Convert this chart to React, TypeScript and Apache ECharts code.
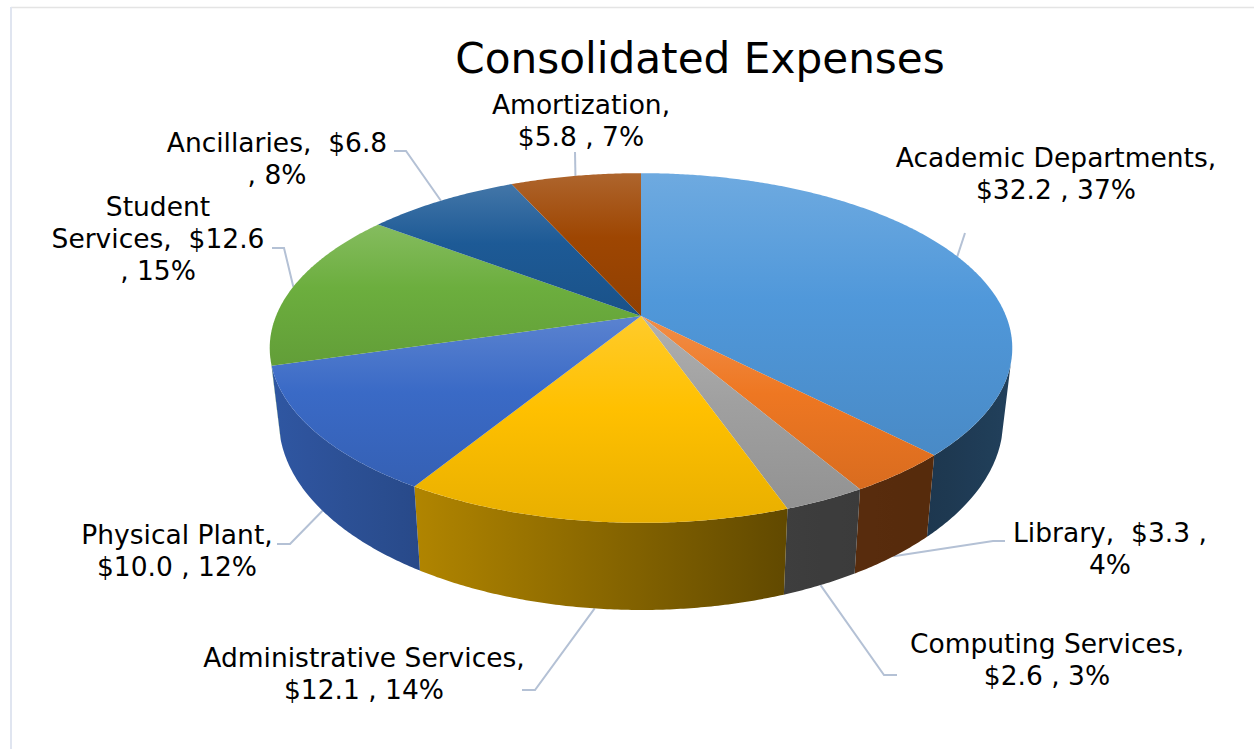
import React, { useEffect, useRef } from "react";
import * as echarts from "echarts";

const chartTitle = "Consolidated Expenses";
const categories = ["Academic Departments", "Library", "Computing Services", "Administrative Services", "Physical Plant", "Student Services", "Ancillaries", "Amortization"];
const expenses = [32.2, 3.3, 2.6, 12.1, 10.0, 12.6, 6.8, 5.8];
const sliceColors = ["#5098DA", "#EE7722", "#A0A0A0", "#FFC000", "#3A6AC6", "#6CAE3E", "#1D5A96", "#9E4602"];
const labelTexts = [
  "Academic Departments,\n$32.2 , 37%",
  "Library,  $3.3 ,\n4%",
  "Computing Services,\n$2.6 , 3%",
  "Administrative Services,\n$12.1 , 14%",
  "Physical Plant,\n$10.0 , 12%",
  "Student\nServices,  $12.6\n, 15%",
  "Ancillaries,  $6.8\n, 8%",
  "Amortization,\n$5.8 , 7%",
];
// label centre [x, y of the block's middle]
const labelCentres = [[1056, 173], [1110, 548], [1047, 659], [364, 673], [177, 550], [158, 238], [277, 158], [581, 120]];
// leader-line start points beside the label (outermost first)
const leaderElbows: number[][][] = [
  [[965, 233]],
  [[1005, 541], [993, 541]],
  [[897, 675], [884, 675]],
  [[522, 690], [535, 690]],
  [[277, 544], [290, 544]],
  [[272, 248], [284, 248]],
  [[394, 151], [406, 151]],
  [[575, 152]],
];

const CX = 641;
const CY = 316;
const K = 0.183;
const TOP_X = 365;
const TOP_Y = 169;
const BOT_X = 356;
const BOT_Y = 183;
const BOT_CY = 386;
const WALL_V = 0.268;

const total = expenses.reduce((a, b) => a + b, 0);
const cumulative = expenses.map((_, i) => expenses.slice(0, i).reduce((a, b) => a + b, 0));

function topPoint(t: number): number[] {
  const u = Math.sin(t), v = -Math.cos(t), w = 1 - K * v;
  return [CX + (TOP_X * u) / w, CY + (TOP_Y * v) / w];
}
function bottomPoint(t: number): number[] {
  const u = Math.sin(t), v = -Math.cos(t), w = 1 - K * v;
  return [CX + (BOT_X * u) / w, BOT_CY + (BOT_Y * v) / w];
}
function parseHex(hex: string): number[] {
  return [1, 3, 5].map((i) => parseInt(hex.slice(i, i + 2), 16));
}
function toRgb(c: number[]): string {
  return `rgb(${c.map((x) => Math.round(Math.min(255, x))).join(",")})`;
}
function lighten(hex: string, f: number): string {
  return toRgb(parseHex(hex).map((x) => x + (255 - x) * f));
}
function shade(hex: string, f: number): string {
  return toRgb(parseHex(hex).map((x) => x * f));
}
function wallFactor(x: number): number {
  const stops = [[270, 0.82], [420, 0.69], [790, 0.38], [930, 0.36], [1010, 0.42]];
  if (x <= stops[0][0]) return stops[0][1];
  for (let i = 1; i < stops.length; i++) {
    if (x <= stops[i][0]) {
      const p = (x - stops[i - 1][0]) / (stops[i][0] - stops[i - 1][0]);
      return stops[i - 1][1] + (stops[i][1] - stops[i - 1][1]) * p;
    }
  }
  return stops[stops.length - 1][1];
}

function renderSlice(params: any, api: any) {
  const i = params.dataIndex;
  const value = api.value(0);
  const t0 = (cumulative[i] / total) * Math.PI * 2;
  const t1 = t0 + (value / total) * Math.PI * 2;
  const color = sliceColors[i];
  const children: any[] = [];
  const step = 0.008;

  // leader line, anchored at the slice's middle angle
  const mid = (t0 + t1) / 2;
  const anchor = -Math.cos(mid) > WALL_V ? bottomPoint(mid) : topPoint(mid);
  children.push({
    type: "polyline",
    z2: 0,
    shape: { points: [...leaderElbows[i], anchor] },
    style: { stroke: "#B4C1D5", lineWidth: 2, fill: "none" },
  });

  // front wall: the part of the slice facing the viewer
  const wallStart = Math.PI - Math.acos(WALL_V);
  const wallEnd = Math.PI + Math.acos(WALL_V);
  const a = Math.max(t0, wallStart);
  const b = Math.min(t1, wallEnd);
  if (b > a) {
    const upper: number[][] = [];
    const lower: number[][] = [];
    for (let t = a; t < b; t += step) {
      upper.push(topPoint(t));
      lower.push(bottomPoint(t));
    }
    upper.push(topPoint(b));
    lower.push(bottomPoint(b));
    const pts = [...upper, ...lower.reverse()];
    const xs = pts.map((p) => p[0]);
    const xMin = Math.min(...xs);
    const xMax = Math.max(...xs);
    const stops = [0, 0.25, 0.5, 0.75, 1].map((o) => ({
      offset: o,
      color: shade(color, wallFactor(xMin + (xMax - xMin) * o)),
    }));
    children.push({
      type: "polygon",
      z2: 1,
      shape: { points: pts },
      style: { fill: { type: "linear", x: 0, y: 0, x2: 1, y2: 0, colorStops: stops } },
    });
  }

  // top face
  const face: number[][] = [[CX, CY]];
  for (let t = t0; t < t1; t += step) face.push(topPoint(t));
  face.push(topPoint(t1));
  children.push({
    type: "polygon",
    z2: 2,
    shape: { points: face },
    style: {
      fill: {
        type: "linear",
        x: 0,
        y: 0,
        x2: 0,
        y2: 1,
        colorStops: [
          { offset: 0, color: lighten(color, 0.17) },
          { offset: 0.45, color: color },
          { offset: 1, color: shade(color, 0.91) },
        ],
      },
    },
  });

  // data label
  children.push({
    type: "text",
    z2: 3,
    x: labelCentres[i][0],
    y: labelCentres[i][1],
    style: {
      text: labelTexts[i],
      fill: "#000000",
      font: '26.5px "DejaVu Sans"',
      lineHeight: 32,
      align: "center",
      verticalAlign: "middle",
    },
  });

  return { type: "group", children };
}

export default function App() {
  const ref = useRef<HTMLDivElement>(null);
  useEffect(() => {
    const chart = echarts.init(ref.current!, undefined, { renderer: "svg" });
    chart.setOption({
      animation: false,
      backgroundColor: "#FFFFFF",
      title: {
        text: chartTitle,
        left: 700,
        top: 37,
        padding: 0,
        textAlign: "center",
        textStyle: { fontFamily: "DejaVu Sans", fontSize: 42.2, fontWeight: "normal", color: "#000000" },
      },
      graphic: [
        { type: "line", shape: { x1: 11, y1: 7.5, x2: 1254, y2: 7.5 }, style: { stroke: "#E4E4E4", lineWidth: 1.5 } },
        { type: "line", shape: { x1: 11, y1: 7, x2: 11, y2: 749 }, style: { stroke: "#E0E5F0", lineWidth: 2 } },
      ],
      series: [
        {
          type: "custom",
          coordinateSystem: "none",
          renderItem: renderSlice,
          data: categories.map((name, i) => ({ name, value: [expenses[i]] })),
        },
      ],
    });
    return () => chart.dispose();
  }, []);
  return <div ref={ref} style={{ position: "absolute", left: 0, top: 0, width: 1254, height: 749 }} />;
}
